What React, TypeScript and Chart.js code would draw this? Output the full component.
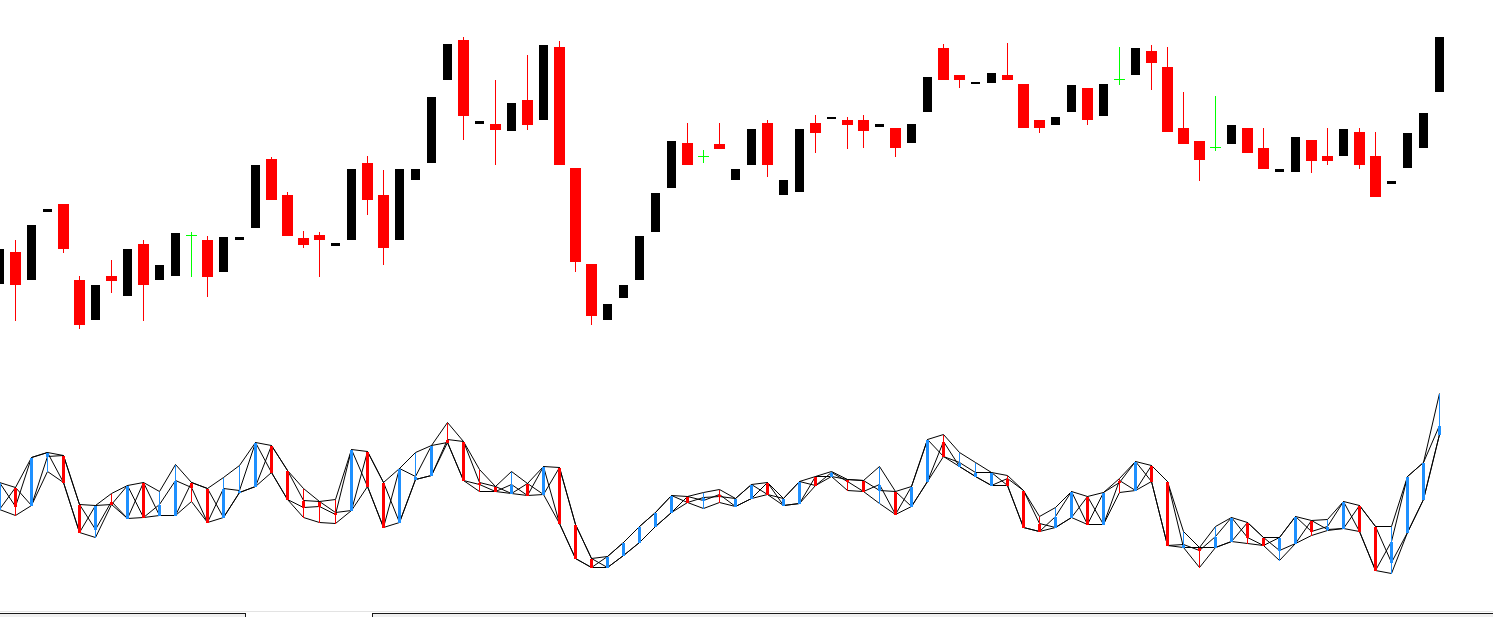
import React, { useEffect, useRef } from "react";
import { Chart, registerables } from "chart.js";

Chart.register(...registerables);

// ---- Price candles (bar 0 is the partly hidden bar at the left edge) ----
const priceOpen = [116,148,120,188,196,120,80,124,104,156,120,124,164,160,128,160,172,241,205,162,165,154,160,237,205,160,220,237,320,360,276,276,269,300,280,353,232,136,80,102,120,168,212,257,243,256,220,235,277,205,208,277,281,280,280,273,272,257,288,352,325,316,317,325,316,280,275,288,312,284,320,325,349,333,272,259,252,256,272,252,228,228,260,244,244,268,244,216,232,252,308];
const priceHigh = [151,160,175,191,196,124,115,140,151,160,135,167,168,164,163,163,235,243,208,169,168,157,231,244,230,231,231,303,356,363,279,320,297,345,355,359,232,136,96,115,164,207,259,277,250,277,231,271,280,220,271,285,283,283,285,276,272,276,323,356,325,318,327,357,316,280,283,315,312,316,353,352,355,353,308,259,304,275,272,272,231,263,260,272,271,272,268,219,267,287,363];
const priceLow = [116,79,120,188,147,71,80,107,104,79,120,124,123,103,128,160,172,200,164,152,123,154,160,185,135,160,220,237,320,260,276,235,269,270,280,235,128,75,80,102,120,168,212,235,237,251,220,235,223,205,208,247,281,251,252,273,243,257,288,320,312,316,317,320,272,267,275,288,275,284,315,325,310,268,256,219,249,256,247,231,228,228,227,235,244,231,203,216,232,252,308];
const priceClose = [151,115,175,191,151,75,115,119,151,115,135,167,164,123,163,163,235,200,164,155,160,157,231,200,152,231,231,303,356,284,279,270,297,275,355,235,138,84,96,115,164,207,259,235,243,251,231,271,235,220,271,267,283,275,269,276,252,276,323,320,320,318,327,320,272,272,283,315,280,316,320,352,337,268,256,240,252,275,247,231,231,263,239,239,271,235,203,219,267,287,363];

// ---- Oscillator (open / high / low / close lines) ----
const oscOpen = [90,112,94,143,144,95,70,98,81,117,84,84,117,111,82,107,113,154,129,99,98,87,89,148,117,77,120,124,160,158,117,113,106,116,105,132,75,41,32,44,57,73,87,103,99,105,93,101,117,94,96,123,123,120,119,109,108,93,118,158,133,123,114,121,109,76,72,82,103,75,119,109,134,118,52,52,52,58,77,62,49,56,79,70,71,94,73,37,67,100,165];
const oscHigh = [117,112,142,147,144,95,94,106,114,117,108,135,117,111,122,134,157,154,129,111,98,100,150,148,117,131,147,154,177,158,130,113,128,116,133,132,75,41,43,57,73,87,104,103,107,110,101,115,117,101,118,123,128,120,119,133,108,113,160,165,147,137,127,124,109,83,92,108,103,107,121,138,134,118,68,52,73,82,77,62,62,83,79,80,98,94,73,73,123,137,206];
const oscLow = [90,84,94,128,117,67,62,95,81,82,84,84,98,77,82,107,113,127,100,82,77,76,89,113,72,77,120,124,157,119,108,108,106,104,105,76,41,32,32,44,57,73,87,97,91,97,93,101,105,94,96,114,123,109,108,96,85,93,118,143,133,123,114,114,72,68,72,82,75,75,107,109,118,54,52,32,52,58,56,54,39,56,64,69,71,68,29,26,67,100,165];
const oscClose = [117,93,142,147,117,67,94,95,114,82,95,119,112,77,111,109,157,127,100,92,93,85,150,113,72,131,123,154,157,119,115,108,115,104,133,76,41,32,43,57,73,87,104,97,102,103,101,115,105,101,118,114,127,118,108,115,85,113,160,143,137,127,127,114,72,68,83,108,75,107,117,138,118,54,55,49,63,82,62,54,62,83,68,73,98,68,29,58,123,137,174];

const UP_COLOR = "#000000";
const DOWN_COLOR = "#ff0000";
const DOJI_COLOR = "#00ff00";
const OSC_UP = "#1e90ff";
const OSC_DOWN = "#ff0000";

export default function App() {
  const ref = useRef<HTMLCanvasElement>(null);

  useEffect(() => {
    if (!ref.current) return;
    const idx = priceOpen.map((_, i) => i);
    const kind = (i: number) =>
      priceClose[i] > priceOpen[i] ? "up" : priceClose[i] < priceOpen[i] ? "down" : "doji";
    const candleColor = (i: number) => {
      const k = kind(i);
      return k === "up" ? UP_COLOR : k === "down" ? DOWN_COLOR : DOJI_COLOR;
    };
    const oscColor = (i: number) => (oscClose[i] > oscOpen[i] ? OSC_UP : OSC_DOWN);

    const barBase = (w: number) => ({
      type: "bar" as const,
      grouped: false,
      barThickness: w,
      maxBarThickness: w,
      inflateAmount: 0,
      borderWidth: 0,
      minBarLength: 1,
    });

    const bodyFor = (k: string, color: string, w: number) => ({
      ...barBase(w),
      yAxisID: "y",
      order: 1,
      backgroundColor: color,
      data: idx.filter((i) => kind(i) === k).map((i) => ({ x: i, y: [priceOpen[i], priceClose[i]] })),
    });

    const lineFor = (arr: number[]) => ({
      type: "line" as const,
      yAxisID: "yOscLine",
      order: 10,
      borderColor: "#000000",
      borderWidth: 1,
      pointRadius: 0,
      fill: false,
      tension: 0,
      data: idx.map((i) => ({ x: i, y: arr[i] })),
    });

    const chart = new Chart(ref.current, {
      type: "bar",
      data: {
        datasets: [
          lineFor(oscOpen),
          lineFor(oscHigh),
          lineFor(oscLow),
          lineFor(oscClose),
          {
            ...barBase(1),
            yAxisID: "y2",
            order: 9,
            backgroundColor: idx.map(oscColor),
            data: idx.map((i) => ({ x: i, y: [oscLow[i], oscHigh[i]] })),
          },
          {
            ...barBase(3),
            yAxisID: "y2",
            order: 8,
            backgroundColor: idx.map(oscColor),
            data: idx.map((i) => ({ x: i, y: [oscOpen[i], oscClose[i]] })),
          },
          {
            ...barBase(1),
            yAxisID: "y",
            order: 3,
            backgroundColor: idx.map(candleColor),
            data: idx.map((i) => ({ x: i, y: [priceLow[i], priceHigh[i]] })),
          },
          bodyFor("up", UP_COLOR, 9),
          bodyFor("down", DOWN_COLOR, 11),
          {
            type: "line",
            yAxisID: "yPriceLine",
            order: 0,
            showLine: false,
            pointStyle: "line",
            pointRadius: 5.5,
            pointBorderWidth: 1,
            pointBorderColor: DOJI_COLOR,
            borderColor: DOJI_COLOR,
            data: idx.filter((i) => kind(i) === "doji").map((i) => ({ x: i, y: priceClose[i] })),
          },
        ] as any,
      },
      options: {
        animation: false,
        responsive: false,
        devicePixelRatio: 1,
        layout: { padding: 0, autoPadding: false },
        plugins: { legend: { display: false }, tooltip: { enabled: false } },
        scales: {
          x: { type: "linear", min: 0.03125, max: 93.34375, offset: false, bounds: "data", display: false },
          y: { type: "linear", min: -210, max: 400, bounds: "data", display: false },
          yPriceLine: { type: "linear", min: -210.5, max: 399.5, bounds: "data", display: false },
          y2: { type: "linear", min: -10, max: 600, bounds: "data", display: false },
          yOscLine: { type: "linear", min: -10.5, max: 599.5, bounds: "data", display: false },
        },
      } as any,
    });
    return () => chart.destroy();
  }, []);

  return (
    <div
      style={{
        position: "fixed",
        left: 0,
        top: 0,
        width: 1493,
        height: 617,
        background: "#ffffff",
        overflow: "hidden",
      }}
    >
      <canvas ref={ref} width={1493} height={610} style={{ display: "block", width: 1493, height: 610 }} />
      <div style={{ position: "absolute", left: 0, top: 611, width: 1493, height: 1, background: "#e3e3e3" }} />
      <div
        style={{
          position: "absolute",
          left: 0,
          top: 613,
          width: 246,
          height: 4,
          background: "#f0f0f0",
          borderTop: "1px solid #1a1a1a",
          borderRight: "1px solid #1a1a1a",
          boxSizing: "border-box",
        }}
      />
      <div
        style={{
          position: "absolute",
          left: 372,
          top: 613,
          width: 1121,
          height: 4,
          background: "#f0f0f0",
          borderTop: "1px solid #1a1a1a",
          borderLeft: "1px solid #1a1a1a",
          boxSizing: "border-box",
        }}
      />
    </div>
  );
}
